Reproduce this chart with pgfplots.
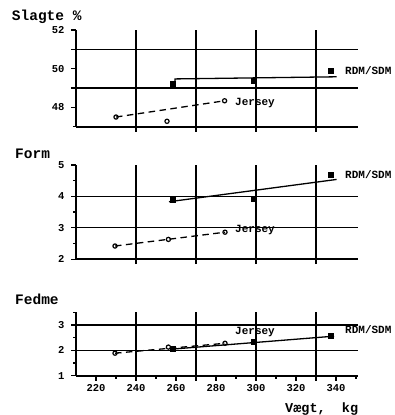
\documentclass[border=0pt]{standalone}
\usepackage{fontspec}
\setmainfont{Liberation Mono}
\usepackage{pgfplots}
\pgfplotsset{compat=1.18}
\begin{document}
\begin{tikzpicture}[x=1pt,y=1pt]
\useasboundingbox (0,0) rectangle (394,415);
\tikzset{lab/.style={font=\fontsize{11pt}{12pt}\selectfont\bfseries, anchor=west, inner sep=0pt}}
\pgfplotsset{
  panel/.style={
    scale only axis, width=282pt, xmin=210, xmax=351, clip=false,
    axis lines=left, axis line style={line width=1.8pt,-},
    tick align=outside, major tick length=5pt, minor tick length=3pt,
    every tick/.style={black, line width=1.3pt},
    /pgf/number format/assume math mode=true,
    tick label style={font=\fontsize{10.5pt}{12pt}\selectfont\bfseries},
    yticklabel style={xshift=-3pt},
    grid style={line width=1.4pt, black},
    extra x ticks={240,270,300,330}, extra x tick labels={},
    extra x tick style={grid=major},
    extra y tick labels={},
    extra y tick style={grid=major},
  },
  rdm/.style={black, line width=1.3pt, mark=none},
  jer/.style={black, line width=1.3pt, dash pattern=on 6.5pt off 4.5pt, mark=none},
  sq/.style={only marks, mark=square*, mark size=2.5pt, black},
  ci/.style={only marks, mark=o, mark size=2.1pt, black, mark options={line width=1.2pt, fill=white}},
}
% ---------- Slagte % ----------
\begin{axis}[panel, at={(76pt,288.3pt)}, anchor=south west, height=96.7pt,
  ymin=47, ymax=52, xtick=\empty,
  ytick={48,50,52}, minor ytick={47,49,51}, extra y ticks={49,51}]
\addplot[rdm] coordinates {(259.5,49.24) (259.5,49.47) (340.3,49.58)};
\addplot[jer] coordinates {(230,47.5) (284.3,48.34)};
\addplot[sq] coordinates {(258.3,49.24) (298.7,49.38) (337.3,49.9)};
\addplot[ci] coordinates {(230,47.5) (255.5,47.28) (284.3,48.34)};
\node[lab] at (axis cs:289.5,48.21) {Jersey};
\node[lab] at (axis cs:344.5,49.9) {RDM/SDM};
\end{axis}
% ---------- Form ----------
\begin{axis}[panel, at={(76pt,155.8pt)}, anchor=south west, height=94.2pt,
  ymin=2, ymax=5, xtick=\empty,
  ytick={2,3,4,5}, minor ytick={2.5,3.5,4.5}, extra y ticks={3,4}]
\addplot[rdm] coordinates {(256.5,3.83) (340.3,4.54)};
\addplot[jer] coordinates {(229.5,2.42) (284.5,2.86)};
\addplot[sq] coordinates {(258.2,3.89) (298.7,3.94) (337.5,4.68)};
\addplot[ci] coordinates {(229.5,2.42) (256.2,2.63) (284.5,2.86)};
\node[lab] at (axis cs:289.5,2.93) {Jersey};
\node[lab] at (axis cs:344.5,4.71) {RDM/SDM};
\end{axis}
% ---------- Fedme ----------
\begin{axis}[panel, at={(76pt,39.2pt)}, anchor=south west, height=63.5pt,
  ymin=1, ymax=3.5,
  xtick={220,240,...,340}, minor xtick={230,250,...,350},
  ytick={1,2,3}, minor ytick={1.5,2.5,3.5}, extra y ticks={2,3}]
\addplot[rdm] coordinates {(258,2.05) (339,2.56)};
\addplot[jer] coordinates {(229.5,1.89) (284.5,2.28)};
\addplot[sq] coordinates {(258.2,2.05) (298.7,2.35) (337.5,2.57)};
\addplot[ci] coordinates {(229.5,1.89) (256.2,2.13) (284.5,2.28)};
\node[lab] at (axis cs:289.5,2.74) {Jersey};
\node[lab] at (axis cs:344.5,2.83) {RDM/SDM};
\end{axis}
% ---------- titles ----------
\node[font=\fontsize{14.5pt}{16pt}\selectfont\bfseries, anchor=base west, inner sep=0pt] at (11.7pt,394.3pt) {Slagte \%};
\node[font=\fontsize{14.5pt}{16pt}\selectfont\bfseries, anchor=base west, inner sep=0pt] at (15pt,256.7pt) {Form};
\node[font=\fontsize{14.5pt}{16pt}\selectfont\bfseries, anchor=base west, inner sep=0pt] at (15pt,110pt) {Fedme};
\node[font=\fontsize{13.5pt}{15pt}\selectfont\bfseries, anchor=base west, inner sep=0pt] at (285pt,2.5pt) {Vægt,\ \ kg};
\end{tikzpicture}
\end{document}
